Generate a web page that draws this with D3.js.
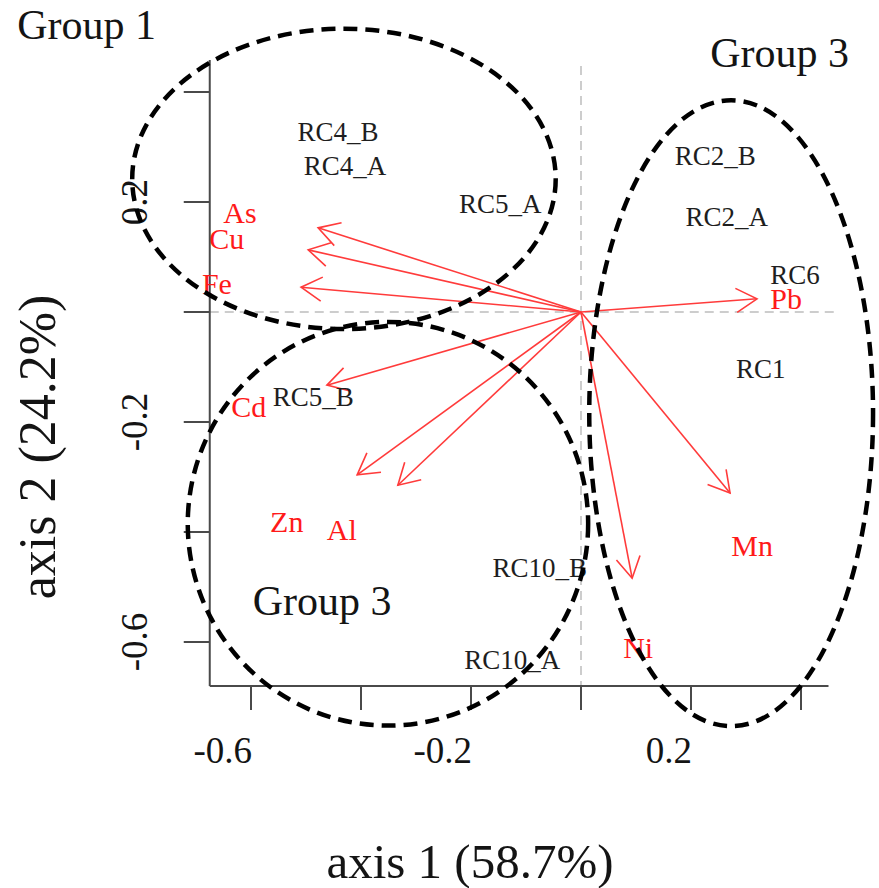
<!DOCTYPE html>
<html>
<head>
<meta charset="utf-8">
<script src="https://cdn.jsdelivr.net/npm/d3@7"></script>
<style>
  html, body { margin: 0; padding: 0; background: #fff; }
  svg { display: block; font-family: "Liberation Serif", "Times New Roman", serif; }
</style>
</head>
<body>
<svg id="chart" width="879" height="888"></svg>
<script>
// ---- data (biplot coordinates) ----
const siteNames = ["RC4_B", "RC4_A", "RC5_A", "RC5_B", "RC10_B", "RC10_A", "RC2_B", "RC2_A", "RC6", "RC1"];
const siteX     = [-0.442, -0.429, -0.147, -0.487, -0.075, -0.125, 0.244, 0.265, 0.389, 0.327];
const siteY     = [ 0.327,  0.265,  0.196, -0.155, -0.465, -0.633, 0.284, 0.173, 0.067, -0.104];

const varNames  = ["As", "Cu", "Fe", "Cd", "Zn", "Al", "Ni", "Mn", "Pb"];
const varX      = [-0.478, -0.496, -0.509, -0.462, -0.407, -0.333, 0.093, 0.271, 0.320];
const varY      = [ 0.153,  0.113,  0.045, -0.133, -0.296, -0.315, -0.484, -0.329, 0.024];
const varLabelX = [-0.620, -0.644, -0.662, -0.604, -0.535, -0.435, 0.104, 0.311, 0.373];
const varLabelY = [ 0.180,  0.133,  0.051, -0.173, -0.382, -0.396, -0.611, -0.425, 0.024];

const groupNames  = ["Group 1", "Group 3", "Group 3"];
const groupCX     = [-0.431, -0.351, 0.273];
const groupCY     = [ 0.242, -0.385, -0.184];
const groupRX     = [ 0.385,  0.364, 0.258];
const groupRY     = [ 0.273,  0.367, 0.569];
const groupLabelX = [-1.025, -0.597, 0.235];
const groupLabelY = [ 0.496, -0.551, 0.445];

const xTicks = [-0.6, -0.4, -0.2, 0, 0.2, 0.4];
const yTicks = [0.4, 0.2, 0, -0.2, -0.4, -0.6];
const xTickLabels = [-0.6, -0.2, 0.2];
const yTickLabels = [0.2, -0.2, -0.6];
const xDomain = [-0.675, 0.45];
const yDomain = [-0.68, 0.458];
const xTitle = "axis 1 (58.7%)";
const yTitle = "axis 2 (24.2%)";

// ---- scales ----
const x = d3.scaleLinear().domain([-0.6, 0.4]).range([251, 801]);
const y = d3.scaleLinear().domain([0.4, -0.6]).range([92, 642]);

const svg = d3.select("#chart");
const axisColor = "#4a4a4a";
const textColor = "#141414";

// reference dashed lines
svg.append("line")
  .attr("x1", x(0)).attr("x2", x(0))
  .attr("y1", y(yDomain[1]) + 6).attr("y2", y(yDomain[0]))
  .attr("stroke", "#bdbdbd").attr("stroke-width", 1.5).attr("stroke-dasharray", "9,6");
svg.append("line")
  .attr("x1", x(xDomain[0])).attr("x2", x(xDomain[1]) + 8)
  .attr("y1", y(0)).attr("y2", y(0))
  .attr("stroke", "#bdbdbd").attr("stroke-width", 1.5).attr("stroke-dasharray", "9,6");

// axes (L-shaped)
svg.append("line")
  .attr("x1", x(xDomain[0])).attr("x2", x(xDomain[0]))
  .attr("y1", y(yDomain[1])).attr("y2", y(yDomain[0]))
  .attr("stroke", axisColor).attr("stroke-width", 2);
svg.append("line")
  .attr("x1", x(xDomain[0])).attr("x2", x(xDomain[1]))
  .attr("y1", y(yDomain[0])).attr("y2", y(yDomain[0]))
  .attr("stroke", axisColor).attr("stroke-width", 2);

const xAxisY = y(yDomain[0]);
const yAxisX = x(xDomain[0]);

svg.append("g").selectAll("line").data(xTicks).join("line")
  .attr("x1", d => x(d)).attr("x2", d => x(d))
  .attr("y1", xAxisY).attr("y2", xAxisY + 24)
  .attr("stroke", axisColor).attr("stroke-width", 2);
svg.append("g").selectAll("line").data(yTicks).join("line")
  .attr("x1", yAxisX).attr("x2", yAxisX - 26)
  .attr("y1", d => y(d)).attr("y2", d => y(d))
  .attr("stroke", axisColor).attr("stroke-width", 2);

svg.append("g").selectAll("text").data(xTickLabels).join("text")
  .attr("x", d => x(d) + 1).attr("y", xAxisY + 77)
  .attr("text-anchor", "end")
  .attr("font-size", 37).attr("fill", textColor)
  .text(d => String(d));
svg.append("g").selectAll("text").data(yTickLabels).join("text")
  .attr("transform", d => `translate(${yAxisX - 63},${y(d)}) rotate(-90)`)
  .attr("text-anchor", "middle")
  .attr("font-size", 37).attr("fill", textColor)
  .text(d => String(d));

// axis titles
svg.append("text")
  .attr("x", 470).attr("y", 878)
  .attr("text-anchor", "middle")
  .attr("font-size", 49).attr("fill", textColor)
  .text(xTitle);
svg.append("text")
  .attr("transform", `translate(55,447) rotate(-90)`)
  .attr("text-anchor", "middle")
  .attr("font-size", 52).attr("fill", textColor)
  .text(yTitle);

// arrows
const headLen = 24, headAng = Math.PI / 6;
const arrowColor = "#ff3b3b";
const ag = svg.append("g");
varNames.forEach((n, i) => {
  const x0 = x(0), y0 = y(0), x1 = x(varX[i]), y1 = y(varY[i]);
  const a = Math.atan2(y0 - y1, x0 - x1);
  ag.append("line")
    .attr("x1", x0).attr("y1", y0).attr("x2", x1).attr("y2", y1)
    .attr("stroke", arrowColor).attr("stroke-width", 1.6);
  const p = [
    [x1 + headLen * Math.cos(a + headAng), y1 + headLen * Math.sin(a + headAng)],
    [x1, y1],
    [x1 + headLen * Math.cos(a - headAng), y1 + headLen * Math.sin(a - headAng)]
  ];
  ag.append("path")
    .attr("d", d3.line()(p))
    .attr("fill", "none").attr("stroke", arrowColor).attr("stroke-width", 1.6);
});

// variable labels
svg.append("g").selectAll("text").data(varNames).join("text")
  .attr("x", (d, i) => x(varLabelX[i]))
  .attr("y", (d, i) => y(varLabelY[i]))
  .attr("dy", "0.34em")
  .attr("text-anchor", "middle")
  .attr("font-size", 30).attr("fill", "#ff1a1a")
  .text(d => d);

// site labels
svg.append("g").selectAll("text").data(siteNames).join("text")
  .attr("x", (d, i) => x(siteX[i]))
  .attr("y", (d, i) => y(siteY[i]))
  .attr("dy", "0.34em")
  .attr("text-anchor", "middle")
  .attr("font-size", 27).attr("fill", "#1e1e1e")
  .text(d => d);

// group ellipses
const pxPerUnit = x(1) - x(0);
svg.append("g").selectAll("ellipse").data(groupNames).join("ellipse")
  .attr("cx", (d, i) => x(groupCX[i]))
  .attr("cy", (d, i) => y(groupCY[i]))
  .attr("rx", (d, i) => groupRX[i] * pxPerUnit)
  .attr("ry", (d, i) => groupRY[i] * pxPerUnit)
  .attr("fill", "none").attr("stroke", "#000")
  .attr("stroke-width", 4.5).attr("stroke-dasharray", "14,8");

// group labels
svg.append("g").selectAll("text").data(groupNames).join("text")
  .attr("x", (d, i) => x(groupLabelX[i]))
  .attr("y", (d, i) => y(groupLabelY[i]))
  .attr("font-size", 42).attr("fill", textColor)
  .text(d => d);
</script>
</body>
</html>
